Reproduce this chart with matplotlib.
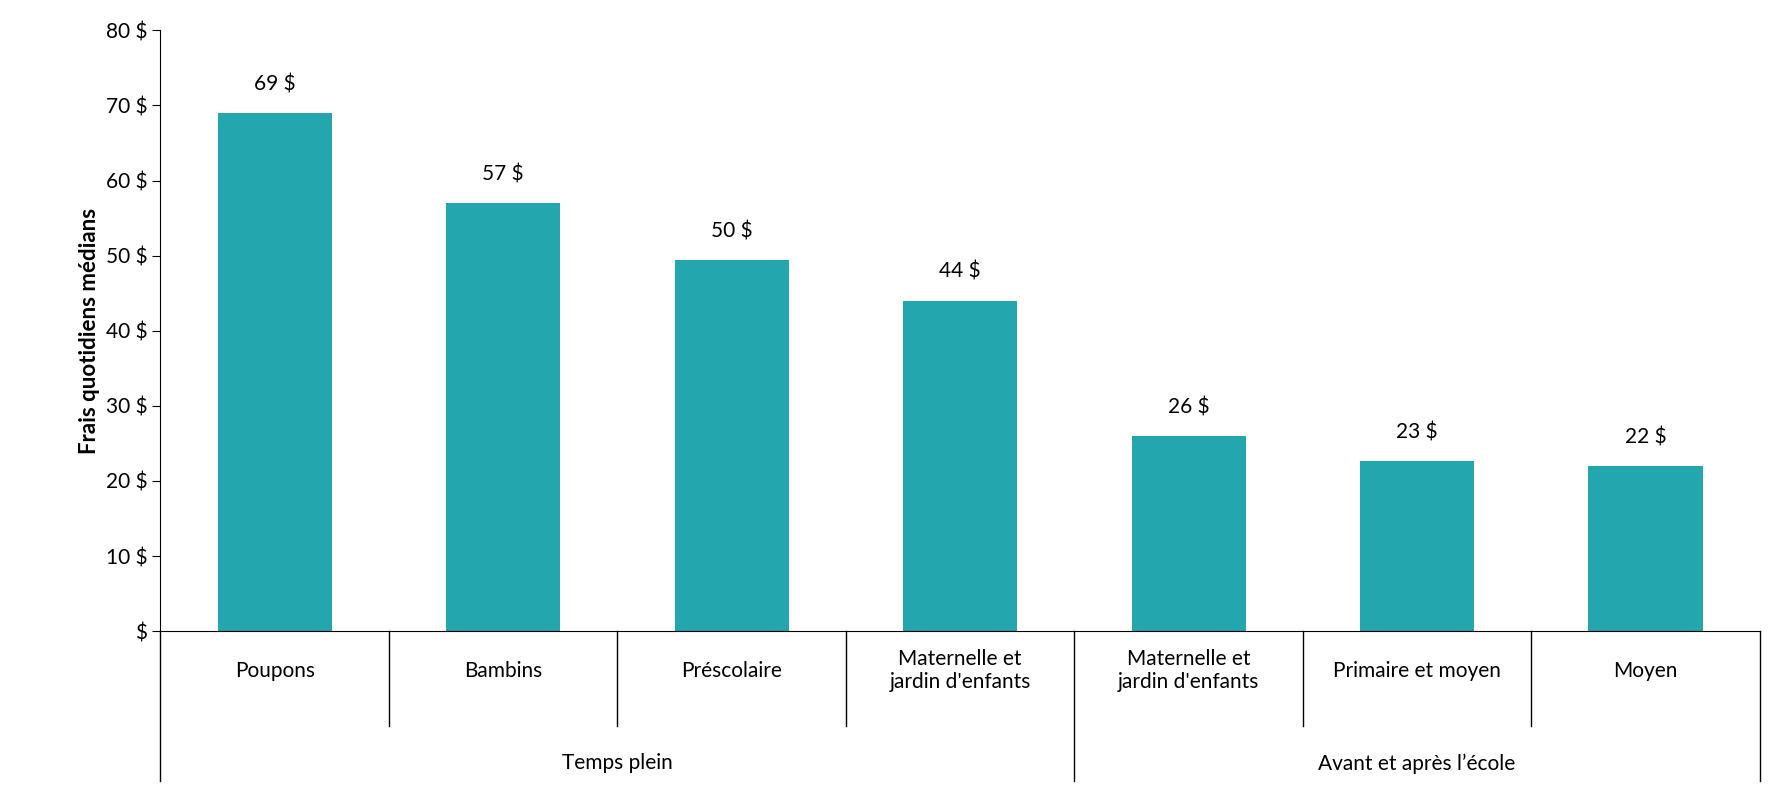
import matplotlib

matplotlib.use("Agg")
import matplotlib.pyplot as plt
from matplotlib.transforms import blended_transform_factory

categories = ["Poupons", "Bambins", "Préscolaire", "Maternelle et\njardin d'enfants",
              "Maternelle et\njardin d'enfants", "Primaire et moyen", "Moyen"]
values = [69, 57, 49.4, 44, 26, 22.6, 22]
labels = ["69 $", "57 $", "50 $", "44 $", "26 $", "23 $", "22 $"]
groups = ["Temps plein", "Avant et après l’école"]
group_spans = [(0, 3), (4, 6)]
yticks = [0, 10, 20, 30, 40, 50, 60, 70, 80]

plt.rcParams["font.family"] = "Lato"
fig = plt.figure(figsize=(17.83, 7.99), dpi=100)
ax = fig.add_axes([0.090, 0.21, 0.897, 0.752])

x = range(len(values))
ax.bar(x, values, width=0.5, color="#23a6ae")
for xi, v, lab in zip(x, values, labels):
    ax.text(xi, v + 2.5, lab, ha="center", va="bottom", fontsize=15)

ax.set_xlim(-0.5, len(values) - 0.5)
ax.set_ylim(0, 80)
ax.set_yticks(yticks)
ax.set_yticklabels([f"{t} $" if t else "$" for t in yticks], fontsize=15)
ax.set_xticks([])
ax.set_ylabel("Frais quotidiens médians", fontsize=16, fontweight="bold")
for s in ["top", "right"]:
    ax.spines[s].set_visible(False)
ax.spines["bottom"].set_color("black")
ax.tick_params(axis="y", length=6)

tr = blended_transform_factory(ax.transData, ax.transAxes)
for xi, cat in zip(x, categories):
    ax.text(xi, -0.066, cat, transform=tr, ha="center", va="center", fontsize=15)
outer = {-0.5, 3.5, 6.5}
for b in [i - 0.5 for i in range(len(values) + 1)]:
    low = -0.25 if b in outer else -0.157
    ax.plot([b, b], [0, low], transform=tr, color="black", lw=1, clip_on=False)
for g, (a, c) in zip(groups, group_spans):
    ax.text((a + c) / 2, -0.22, g, transform=tr, ha="center", va="center", fontsize=15)

fig.savefig("out.png", dpi=100, facecolor="white")
